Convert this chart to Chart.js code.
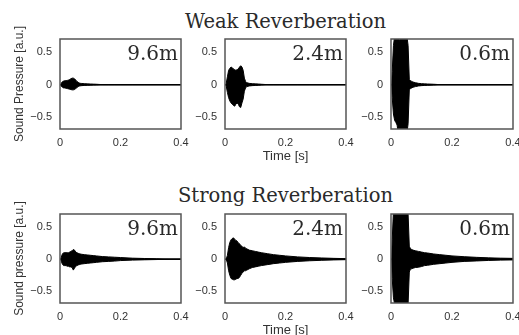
<!DOCTYPE html>
<html>
<head>
<meta charset="utf-8">
<script src="https://cdn.jsdelivr.net/npm/chart.js@4/dist/chart.umd.min.js"></script>
<style>
  html, body { margin: 0; padding: 0; background: #fff; overflow: hidden; }
  body { width: 519px; height: 335px; position: relative; }
  .box { position: absolute; }
  .rowTitle { position: absolute; font-family: "DejaVu Serif", serif; font-size: 19.5px; line-height: 20px; color: #2a2a2a; white-space: nowrap; }
  .dist { position: absolute; font-family: "DejaVu Serif", serif; font-size: 20px; line-height: 20px; color: #2a2a2a; text-align: right; white-space: nowrap; }
</style>
</head>
<body>
<div class="rowTitle" id="title0" style="left:185px; top:12px;">Weak Reverberation</div>
<div class="rowTitle" id="title1" style="left:178px; top:186px;">Strong Reverberation</div>

<script>
// time samples [s] for the envelopes
const times = [0.002, 0.004, 0.008, 0.012, 0.016, 0.020, 0.024, 0.028, 0.032, 0.036, 0.040,
  0.044, 0.048, 0.052, 0.056, 0.060, 0.064, 0.068, 0.072, 0.08, 0.09, 0.10, 0.11, 0.12,
  0.14, 0.16, 0.18, 0.20, 0.24, 0.28, 0.32, 0.36, 0.40];

// envelopes (upper / lower) for each panel
const weak96Up = [0, 0.02, 0.045, 0.055, 0.06, 0.06, 0.065, 0.07, 0.08, 0.09, 0.1, 0.1, 0.09, 0.07, 0.05, 0.035, 0.025, 0.02, 0.018, 0.015, 0.012, 0.01, 0.008, 0.006, 0, 0, 0, 0, 0, 0, 0, 0, 0];
const weak96Lo = [0, -0.02, -0.04, -0.05, -0.05, -0.055, -0.06, -0.065, -0.07, -0.075, -0.08, -0.08, -0.075, -0.06, -0.045, -0.03, -0.022, -0.018, -0.015, -0.012, -0.01, -0.008, -0.006, -0.005, 0, 0, 0, 0, 0, 0, 0, 0, 0];
const weak24Up = [0, 0.02, 0.12, 0.22, 0.25, 0.27, 0.26, 0.24, 0.23, 0.22, 0.23, 0.24, 0.27, 0.29, 0.27, 0.22, 0.1, 0.05, 0.03, 0.02, 0.015, 0.012, 0.01, 0.006, 0, 0, 0, 0, 0, 0, 0, 0, 0];
const weak24Lo = [0, -0.02, -0.12, -0.2, -0.25, -0.28, -0.3, -0.32, -0.33, -0.3, -0.28, -0.3, -0.34, -0.35, -0.28, -0.22, -0.1, -0.05, -0.03, -0.02, -0.015, -0.012, -0.01, -0.006, 0, 0, 0, 0, 0, 0, 0, 0, 0];
const weak06Up = [0, 0.2, 0.6, 0.75, 0.75, 0.72, 0.75, 0.66, 0.75, 0.75, 0.75, 0.72, 0.75, 0.75, 0.6, 0.08, 0.06, 0.05, 0.04, 0.03, 0.02, 0.015, 0.012, 0.01, 0.006, 0, 0, 0, 0, 0, 0, 0, 0];
const weak06Lo = [0, -0.2, -0.45, -0.55, -0.58, -0.62, -0.75, -0.75, -0.7, -0.75, -0.75, -0.75, -0.7, -0.75, -0.6, -0.08, -0.06, -0.05, -0.04, -0.03, -0.02, -0.015, -0.012, -0.01, -0.006, 0, 0, 0, 0, 0, 0, 0, 0];
const strong96Up = [0, 0.03, 0.08, 0.1, 0.1, 0.1, 0.1, 0.1, 0.11, 0.12, 0.13, 0.15, 0.14, 0.11, 0.1, 0.09, 0.085, 0.08, 0.075, 0.07, 0.065, 0.06, 0.055, 0.05, 0.04, 0.035, 0.03, 0.025, 0.015, 0.01, 0.006, 0, 0];
const strong96Lo = [0, -0.03, -0.08, -0.1, -0.1, -0.1, -0.11, -0.11, -0.12, -0.12, -0.13, -0.17, -0.14, -0.11, -0.1, -0.09, -0.085, -0.08, -0.075, -0.07, -0.065, -0.06, -0.055, -0.05, -0.04, -0.035, -0.03, -0.022, -0.015, -0.01, -0.006, 0, 0];
const strong24Up = [0, 0, 0.06, 0.18, 0.26, 0.3, 0.32, 0.33, 0.31, 0.29, 0.28, 0.25, 0.24, 0.21, 0.2, 0.18, 0.19, 0.17, 0.16, 0.14, 0.13, 0.12, 0.11, 0.1, 0.085, 0.07, 0.06, 0.05, 0.035, 0.025, 0.018, 0.012, 0.008];
const strong24Lo = [0, 0, -0.06, -0.18, -0.25, -0.3, -0.31, -0.32, -0.32, -0.31, -0.3, -0.3, -0.28, -0.25, -0.22, -0.2, -0.18, -0.18, -0.17, -0.15, -0.13, -0.12, -0.11, -0.1, -0.085, -0.07, -0.06, -0.05, -0.035, -0.025, -0.018, -0.012, -0.008];
const strong06Up = [0, 0.3, 0.75, 0.75, 0.72, 0.75, 0.75, 0.7, 0.75, 0.75, 0.75, 0.75, 0.72, 0.75, 0.7, 0.2, 0.16, 0.15, 0.14, 0.13, 0.12, 0.11, 0.1, 0.095, 0.08, 0.07, 0.06, 0.05, 0.038, 0.028, 0.02, 0.015, 0.012];
const strong06Lo = [0, -0.3, -0.6, -0.7, -0.75, -0.75, -0.7, -0.75, -0.75, -0.75, -0.72, -0.75, -0.75, -0.75, -0.7, -0.2, -0.15, -0.15, -0.14, -0.13, -0.125, -0.115, -0.1, -0.095, -0.08, -0.07, -0.06, -0.05, -0.035, -0.028, -0.02, -0.015, -0.012];

const distances = ["9.6m", "2.4m", "0.6m"];
const yTicks = [-0.5, 0, 0.5];
const xTicks = [0, 0.2, 0.4];

const panels = [
  { row: 0, col: 0, up: weak96Up, lo: weak96Lo, yTitle: "Sound Pressure [a.u.]" },
  { row: 0, col: 1, up: weak24Up, lo: weak24Lo, xTitle: "Time [s]" },
  { row: 0, col: 2, up: weak06Up, lo: weak06Lo },
  { row: 1, col: 0, up: strong96Up, lo: strong96Lo, yTitle: "Sound pressure [a.u.]" },
  { row: 1, col: 1, up: strong24Up, lo: strong24Lo, xTitle: "Time [s]" },
  { row: 1, col: 2, up: strong06Up, lo: strong06Lo },
];

// plot-area geometry
const colLeft = [60, 225, 391];
const colWidth = [121, 121, 122];
const rowTop = [39, 214];
const rowHeight = [90, 89];
const Y_W = 52, X_H = 38, PAD_T = 22, PAD_R = 10;

const boxPlugin = {
  id: "box",
  afterDatasetsDraw(chart) {
    const a = chart.chartArea, ctx = chart.ctx;
    ctx.save();
    ctx.strokeStyle = "#555";
    ctx.lineWidth = 1.5;
    ctx.strokeRect(a.left, a.top, a.right - a.left, a.bottom - a.top);
    ctx.restore();
  }
};

panels.forEach(p => {
  const L = colLeft[p.col], T = rowTop[p.row];
  const W = Y_W + colWidth[p.col] + PAD_R, H = PAD_T + rowHeight[p.row] + X_H;
  const div = document.createElement("div");
  div.className = "box";
  div.style.left = (L - Y_W) + "px";
  div.style.top = (T - PAD_T) + "px";
  div.style.width = W + "px";
  div.style.height = H + "px";
  const canvas = document.createElement("canvas");
  div.appendChild(canvas);
  document.body.appendChild(div);

  const lbl = document.createElement("div");
  lbl.className = "dist";
  lbl.textContent = distances[p.col];
  lbl.style.left = (L + colWidth[p.col] - 80) + "px";
  lbl.style.width = "77px";
  lbl.style.top = (T + 4) + "px";
  document.body.appendChild(lbl);

  new Chart(canvas, {
    type: "line",
    data: {
      datasets: [
        {
          data: times.map((t, i) => ({ x: t, y: p.up[i] })),
          borderColor: "#000", backgroundColor: "#000", borderWidth: 1,
          pointRadius: 0, tension: 0, fill: "+1"
        },
        {
          data: times.map((t, i) => ({ x: t, y: p.lo[i] })),
          borderColor: "#000", borderWidth: 1, pointRadius: 0, tension: 0, fill: false
        },
        {
          data: [{ x: 0, y: 0 }, { x: 0.4, y: 0 }],
          borderColor: "#111", borderWidth: 1.5, pointRadius: 0, fill: false
        }
      ]
    },
    options: {
      responsive: true,
      maintainAspectRatio: false,
      animation: false,
      layout: { padding: { left: 0, top: PAD_T, right: PAD_R, bottom: 0 } },
      plugins: { legend: { display: false }, tooltip: { enabled: false } },
      scales: {
        x: {
          type: "linear", min: 0, max: 0.4,
          grid: { display: false, drawTicks: false },
          border: { display: false },
          afterBuildTicks: s => { s.ticks = xTicks.map(v => ({ value: v })); },
          afterFit: s => { s.height = X_H; s.paddingLeft = 0; s.paddingRight = 0; },
          ticks: {
            padding: 7, color: "#333", maxRotation: 0,
            font: { family: "Liberation Sans, Arial, sans-serif", size: 11 },
            callback: v => v === 0 ? "0" : v.toFixed(1)
          },
          title: {
            display: !!p.xTitle, text: p.xTitle || "", color: "#333",
            padding: { top: 0, bottom: 3 },
            font: { family: "Liberation Sans, Arial, sans-serif", size: 13 }
          }
        },
        y: {
          type: "linear", min: -0.68, max: 0.7,
          grid: { display: false, drawTicks: false },
          border: { display: false },
          afterBuildTicks: s => { s.ticks = yTicks.map(v => ({ value: v })); },
          afterFit: s => { s.width = Y_W; s.paddingTop = 0; s.paddingBottom = 0; },
          ticks: {
            padding: 8, color: "#333",
            font: { family: "Liberation Sans, Arial, sans-serif", size: 11 },
            callback: v => v === 0 ? "0" : (v < 0 ? "\u2212" + Math.abs(v).toFixed(1) : v.toFixed(1))
          },
          title: {
            display: !!p.yTitle, text: p.yTitle || "", color: "#333",
            padding: { top: 4, bottom: 0 },
            font: { family: "Liberation Sans, Arial, sans-serif", size: 12 }
          }
        }
      }
    },
    plugins: [boxPlugin]
  });
});
</script>
</body>
</html>
